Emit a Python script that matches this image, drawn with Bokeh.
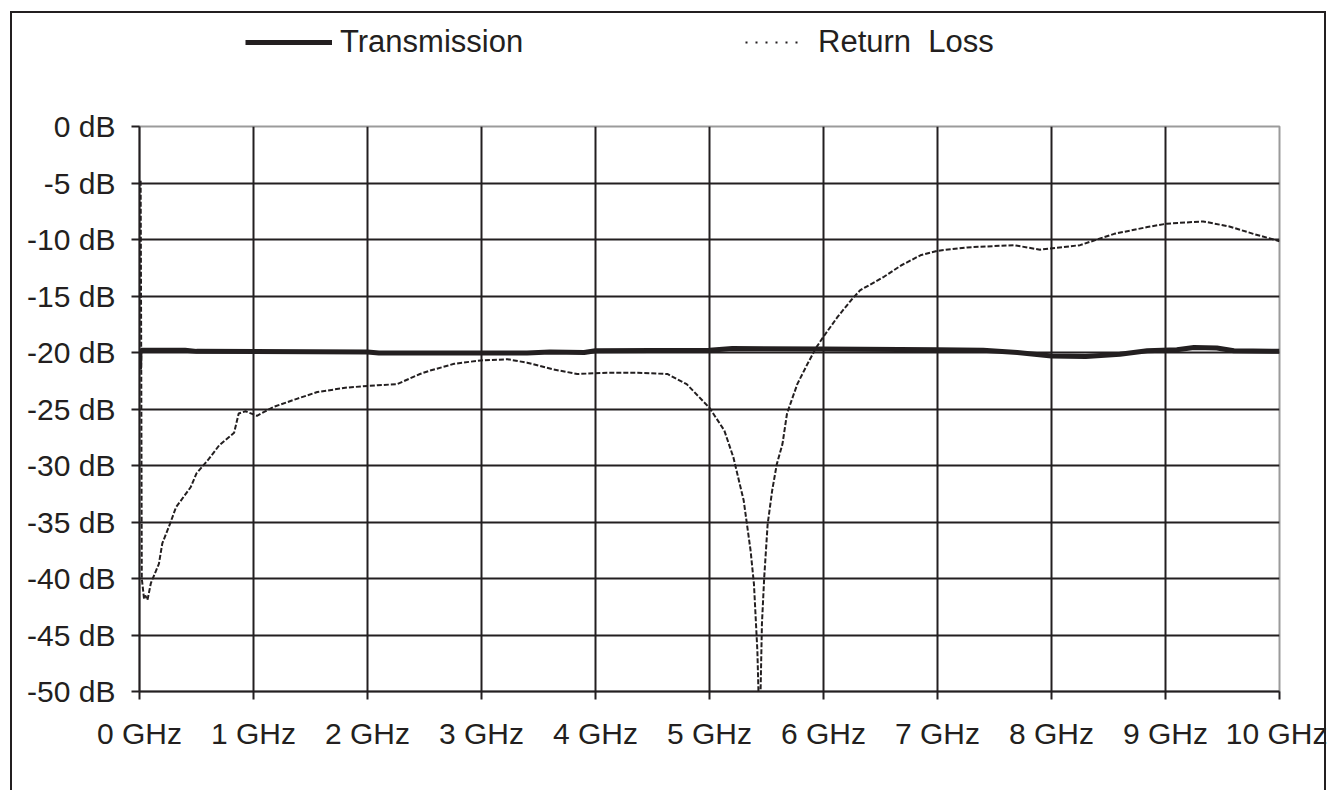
from bokeh.plotting import figure
from bokeh.models import Range1d, FixedTicker, Legend, LegendItem
from bokeh.layouts import column
from bokeh.embed import file_html
from bokeh.resources import INLINE

# ---- data ----
x_ticks = [0, 1, 2, 3, 4, 5, 6, 7, 8, 9, 10]
x_tick_labels = ["0 GHz", "1 GHz", "2 GHz", "3 GHz", "4 GHz", "5 GHz",
                 "6 GHz", "7 GHz", "8 GHz", "9 GHz", "10 GHz"]
y_ticks = [0, -5, -10, -15, -20, -25, -30, -35, -40, -45, -50]
y_tick_labels = ["0 dB", "-5 dB", "-10 dB", "-15 dB", "-20 dB", "-25 dB",
                 "-30 dB", "-35 dB", "-40 dB", "-45 dB", "-50 dB"]
series_names = ["Transmission", "Return  Loss"]

trans_ghz = [0.0, 0.005, 0.01, 0.4, 0.5, 2.0, 2.1, 3.4, 3.6, 3.9, 4.0, 5.0,
             5.2, 6.0, 7.0, 7.4, 7.7, 8.0, 8.3, 8.6, 8.84, 9.1, 9.25, 9.45,
             9.6, 10.0]
trans_db = [-21.5, -19.7, -19.8, -19.8, -19.9, -19.95, -20.05, -20.05, -19.95,
            -20.0, -19.85, -19.8, -19.65, -19.7, -19.75, -19.8, -20.0, -20.3,
            -20.35, -20.15, -19.85, -19.75, -19.55, -19.6, -19.85, -19.9]

rl_ghz = [0.01, 0.015, 0.02, 0.04, 0.05, 0.07, 0.1, 0.17, 0.2, 0.27, 0.32, 0.45,
          0.5, 0.61, 0.7, 0.83, 0.87, 0.93, 1.03, 1.18, 1.38, 1.56, 1.82, 2.09,
          2.26, 2.46, 2.55, 2.76, 2.99, 3.23, 3.4, 3.63, 3.84, 4.1, 4.37, 4.63,
          4.8, 5.0, 5.13, 5.21, 5.3, 5.36, 5.39, 5.42, 5.44, 5.46, 5.48, 5.51,
          5.55, 5.59, 5.64, 5.68, 5.77, 5.86, 5.94, 6.0, 6.12, 6.24, 6.32,
          6.53, 6.68, 6.85, 7.0, 7.26, 7.67, 7.9, 7.99, 8.25, 8.55, 8.84, 9.01,
          9.33, 9.56, 9.77, 10.0]
rl_db = [-4.8, -20.0, -40.0, -41.8, -41.5, -41.9, -40.4, -38.7, -36.9, -35.1,
         -33.7, -31.9, -30.7, -29.4, -28.2, -27.1, -25.4, -25.2, -25.6, -24.8,
         -24.1, -23.5, -23.1, -22.9, -22.8, -21.9, -21.6, -21.0, -20.7, -20.6,
         -20.9, -21.5, -21.9, -21.8, -21.8, -21.9, -22.8, -24.9, -26.9, -29.3,
         -33.1, -37.5, -40.5, -46.4, -54.0, -44.0, -39.9, -35.2, -32.2, -29.9,
         -28.1, -25.4, -22.8, -21.0, -19.5, -18.6, -16.9, -15.4, -14.5, -13.3,
         -12.3, -11.4, -11.0, -10.7, -10.5, -10.9, -10.8, -10.5, -9.5, -8.9,
         -8.6, -8.4, -8.85, -9.5, -10.15]

INK = "#231f20"
FONT = "Liberation Sans"
LINE_IMG = "linear-gradient(#231f20,#231f20)"

# ---------- legend strip (top part of the chart box) ----------
# its frame is aligned with the chart's frame (x from 0 to 10 GHz); the
# y range lies above the data, so the key lines only show in the legend
top = figure(width=1327, height=100, x_range=Range1d(0, 10), y_range=Range1d(0, 1),
             output_backend="svg", toolbar_location=None,
             x_axis_location=None, y_axis_location=None, min_border=0)
top.grid.visible = False
top.outline_line_color = None
top.background_fill_alpha = 0
top.border_fill_alpha = 0
top.styles = {
    "background-color": "white",
    "background-image": ", ".join([LINE_IMG] * 3),
    "background-position": "10px 11px, 10px 11px, 1324px 11px",
    "background-size": "2px 100%, 1316px 2px, 2px 100%",
    "background-repeat": "no-repeat",
}
key_tr = top.line(trans_ghz, trans_db, line_color=INK, line_width=5)
key_rl = top.line(rl_ghz, rl_db, line_color=INK, line_width=2, line_dash="2 8")

leg_common = dict(orientation="horizontal", padding=0, margin=0,
                  border_line_alpha=0, background_fill_alpha=0,
                  label_text_font=FONT, label_text_font_size="31px",
                  label_text_color=INK)
leg1 = Legend(items=[LegendItem(label=series_names[0], renderers=[key_tr])],
              location=(106, 40), glyph_width=87, label_standoff=8, **leg_common)
leg2 = Legend(items=[LegendItem(label=series_names[1], renderers=[key_rl])],
              location=(606, 40), glyph_width=58, label_standoff=15, **leg_common)
top.add_layout(leg1, "center")
top.add_layout(leg2, "center")

# ---------- main chart ----------
p = figure(width=1327, height=690, x_range=Range1d(0, 10), y_range=Range1d(-50, 0),
           output_backend="svg", toolbar_location=None,
           min_border_left=139, min_border_right=48, min_border_top=26,
           min_border_bottom=99)
p.background_fill_color = "white"
p.border_fill_alpha = 0
p.outline_line_color = "#9b9b9b"
p.outline_line_width = 2
p.styles = {
    "background-color": "white",
    "background-image": ", ".join([LINE_IMG] * 2),
    "background-position": "10px 0px, 1324px 0px",
    "background-size": "2px 100%, 2px 100%",
    "background-repeat": "no-repeat",
}

# grid
p.xgrid.ticker = FixedTicker(ticks=x_ticks[1:-1])
p.ygrid.ticker = FixedTicker(ticks=y_ticks[1:-1])
for g in (p.xgrid, p.ygrid):
    g.grid_line_color = INK
    g.grid_line_width = 2

# axes
p.xaxis.ticker = FixedTicker(ticks=x_ticks)
p.yaxis.ticker = FixedTicker(ticks=y_ticks)
p.xaxis.major_label_overrides = {t: l for t, l in zip(x_ticks, x_tick_labels)}
p.yaxis.major_label_overrides = {t: l for t, l in zip(y_ticks, y_tick_labels)}
for ax in (p.xaxis[0], p.yaxis[0]):
    ax.axis_line_color = INK
    ax.axis_line_width = 2
    ax.major_tick_line_color = INK
    ax.major_tick_line_width = 2
    ax.major_tick_in = 0
    ax.major_tick_out = 8
    ax.minor_tick_line_color = None
    ax.major_label_text_font = FONT
    ax.major_label_text_color = INK
p.xaxis.major_label_text_font_size = "30px"
p.yaxis.major_label_text_font_size = "30px"
p.xaxis.major_label_standoff = 17
p.yaxis.major_label_standoff = 16

# curves
p.line(rl_ghz, rl_db, line_color=INK, line_width=2, line_dash="5 2")
p.line(trans_ghz, trans_db, line_color=INK, line_width=5)

layout = column(top, p, spacing=0)
open("out.html", "w").write(file_html(layout, INLINE))
